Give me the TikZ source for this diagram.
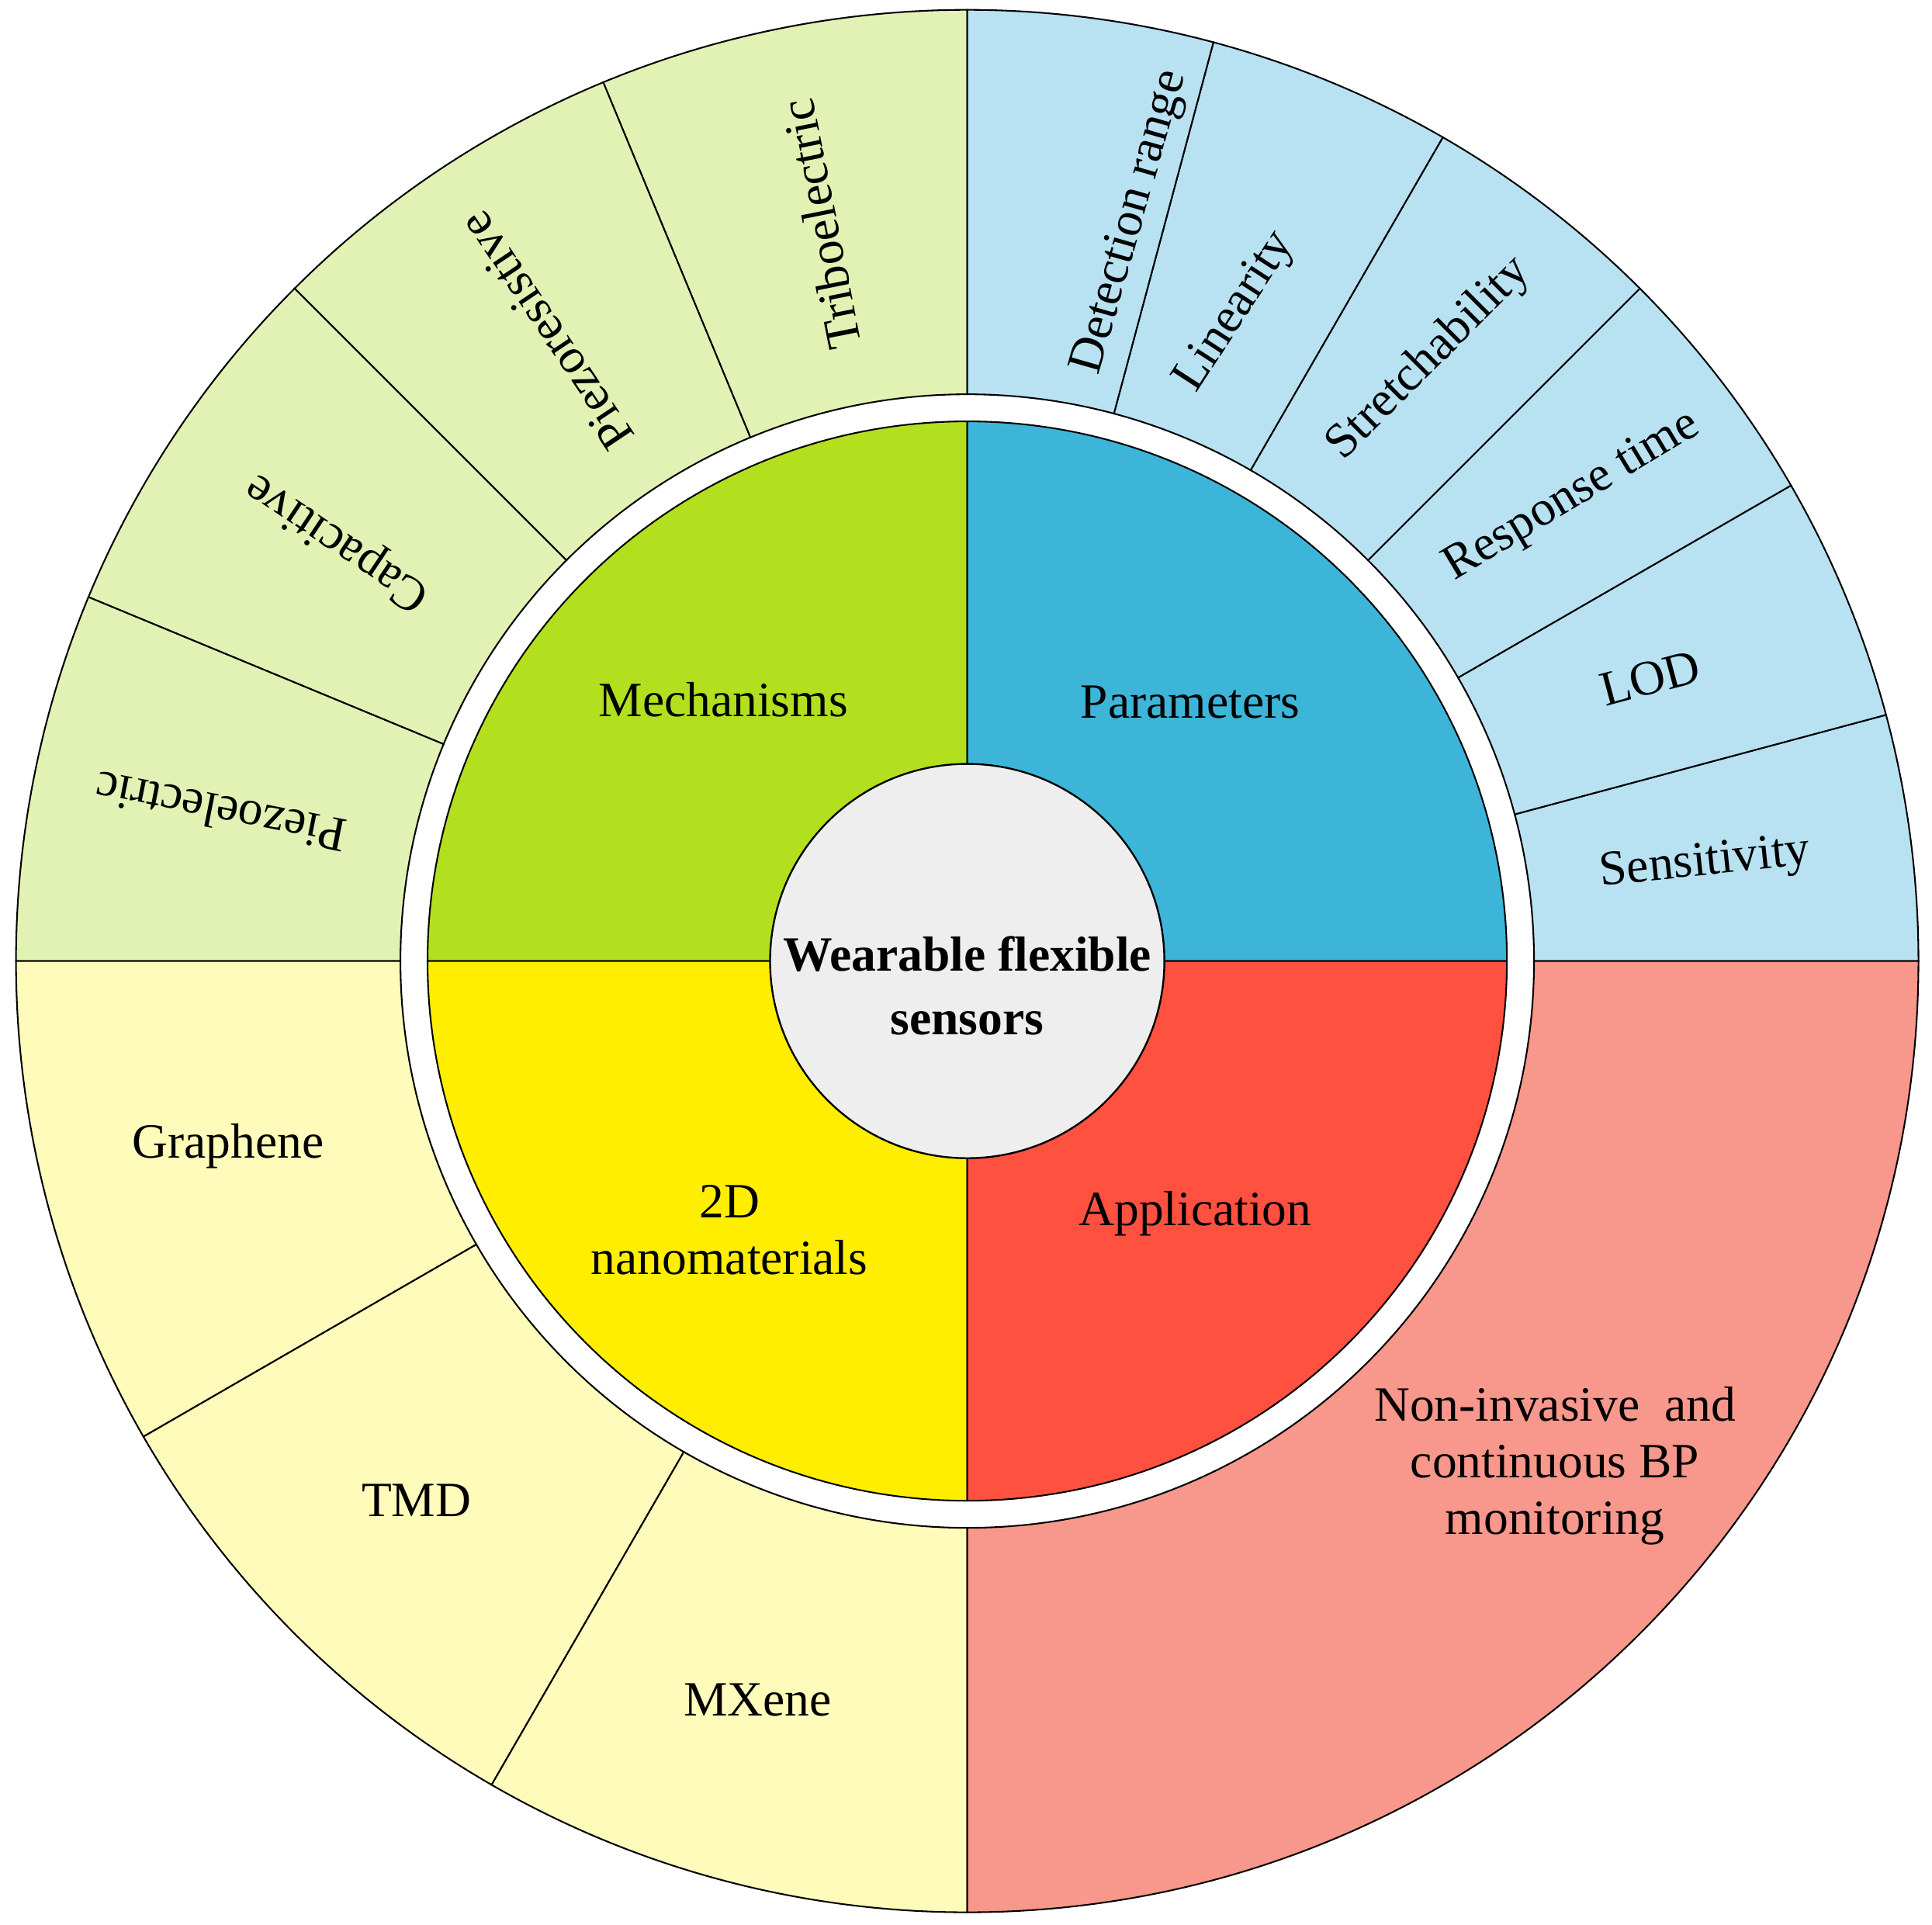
\documentclass[tikz,border=0pt]{standalone}
\usepackage{fontspec}
\setmainfont{Liberation Serif}
\definecolor{mechO}{HTML}{E2F2B4}
\definecolor{mechI}{HTML}{B2E01E}
\definecolor{parO}{HTML}{B8E2F2}
\definecolor{parI}{HTML}{3DB5D9}
\definecolor{matO}{HTML}{FFFBBA}
\definecolor{matI}{HTML}{FFEE00}
\definecolor{appO}{HTML}{F8978B}
\definecolor{appI}{HTML}{FF5040}
\definecolor{cen}{HTML}{EEEEEE}
\newcommand\mysector[5]{\filldraw[fill=#1,draw=black,line width=1.3pt] (#2:#4) arc[start angle=#2,end angle=#3,radius=#4] -- (#3:#5) arc[start angle=#3,end angle=#2,radius=#5] -- cycle;}
\tikzset{lbl/.style={font=\fontsize{40}{46}\selectfont,align=center,inner sep=0pt}}
\begin{document}
\begin{tikzpicture}[x=1pt,y=1pt]
\useasboundingbox[fill=white] (-785,-782) rectangle (783,780);
% outer ring
\foreach \a in {90,112.5,135,157.5}{\mysector{mechO}{\a}{\a+22.5}{460}{772}}
\foreach \a in {0,15,...,75}{\mysector{parO}{\a}{\a+15}{460}{772}}
\foreach \a in {180,210,240}{\mysector{matO}{\a}{\a+30}{460}{772}}
\mysector{appO}{270}{360}{460}{772}
% quadrants
\filldraw[fill=mechI,line width=1.3pt] (0,0) -- (90:438) arc[start angle=90,end angle=180,radius=438] -- cycle;
\filldraw[fill=parI,line width=1.3pt] (0,0) -- (0:438) arc[start angle=0,end angle=90,radius=438] -- cycle;
\filldraw[fill=matI,line width=1.3pt] (0,0) -- (180:438) arc[start angle=180,end angle=270,radius=438] -- cycle;
\filldraw[fill=appI,line width=1.3pt] (0,0) -- (270:438) arc[start angle=270,end angle=360,radius=438] -- cycle;
\filldraw[fill=cen,line width=1.5pt] (0,0) circle[radius=160];
\node[lbl,font=\fontsize{40}{52}\selectfont\bfseries] (c) at (0,-20) {Wearable flexible\\sensors};
\node[lbl] (mech) at (-198,212) {Mechanisms};
\node[lbl] (par) at (181,210) {Parameters};
\node[lbl] (mat) at (-193,-218) {2D\\nanomaterials};
\node[lbl] (app) at (185,-205) {Application};
% mechanism labels
\node[lbl,rotate=101.25] (tri) at (101.25:610) {Triboelectric};
\node[lbl,rotate=123.75] (pr) at (123.75:615) {Piezoresistive};
\node[lbl,rotate=146.25] (cap) at (146.25:614) {Capacitive};
\node[lbl,rotate=168.75] (pe) at (168.75:618) {Piezoelectric};
% parameter labels
\node[lbl,rotate=74] (det) at (77.5:614) {Detection range};
\node[lbl,rotate=57] (lin) at (67.5:570) {Linearity};
\node[lbl,rotate=45] (str) at (52.5:616) {Stretchability};
\node[lbl,rotate=31] (res) at (37.5:619) {Response time};
\node[lbl,rotate=15] (lod) at (22.5:600) {LOD};
\node[lbl,rotate=6] (sen) at (7.5:604) {Sensitivity};
% material labels
\node[lbl] (gr) at (-600,-150) {Graphene};
\node[lbl] (tmd) at (-447,-438) {TMD};
\node[lbl] (mx) at (-170,-600) {MXene};
\node[lbl] (bp) at (477,-410) {Non-invasive\ \ and\\continuous BP\\monitoring};
\end{tikzpicture}
\end{document}
